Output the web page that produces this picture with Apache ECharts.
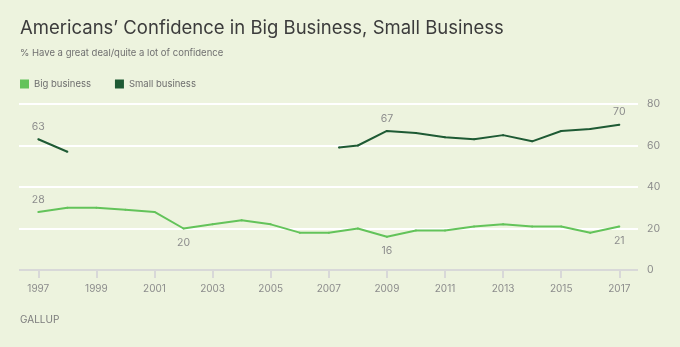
<!DOCTYPE html>
<html>
<head>
<meta charset="utf-8">
<script src="https://cdn.jsdelivr.net/npm/echarts@6/dist/echarts.min.js"></script>
<style>
  html, body { margin: 0; padding: 0; background: #edf3de; }
  #chart { width: 680px; height: 347px; }
</style>
</head>
<body>
<div id="chart"></div>
<script>
// Survey years for big business (annual)
const bigYears = [1997, 1998, 1999, 2000, 2001, 2002, 2003, 2004, 2005, 2006, 2007,
                  2008, 2009, 2010, 2011, 2012, 2013, 2014, 2015, 2016, 2017];
const bigBusiness = [28, 30, 30, 29, 28, 20, 22, 24, 22, 18, 18,
                     20, 16, 19, 19, 21, 22, 21, 21, 18, 21];

// Small business was not asked 1999-2006; null breaks the line there
const smallYears = [1997, 1998, 2002, 2007.35, 2008, 2009, 2010, 2011, 2012, 2013, 2014, 2015, 2016, 2017];
const smallBusiness = [63, 57, null, 59, 60, 67, 66, 64, 63, 65, 62, 67, 68, 70];

// Years whose values are printed on the chart
const bigLabelled = { 1997: 'top', 2002: 'bottom', 2009: 'bottom', 2017: 'bottom' };
const smallLabelled = { 1997: 'top', 2009: 'top', 2017: 'top' };

const yTicks = [0, 20, 40, 60, 80];

const LIGHT = '#63c35a';
const DARK = '#1e5a34';
const GREY = '#8c8c8c';
const FONT = 'Inter, sans-serif';

function buildData(xs, ys, labelled) {
  return xs.map((x, i) => {
    const item = { value: [x, ys[i] === null ? '-' : ys[i]] };
    if (labelled[x]) {
      item.label = {
        show: true,
        position: labelled[x],
        distance: labelled[x] === 'top' ? 6 : 8,
        color: GREY,
        fontSize: 10.5,
        fontFamily: FONT
      };
    }
    return item;
  });
}

const chart = echarts.init(document.getElementById('chart'));
chart.setOption({
  backgroundColor: '#edf3de',
  animation: false,
  textStyle: { fontFamily: FONT },
  title: [
    {
      text: 'Americans\u2019 Confidence in Big Business, Small Business',
      left: 20, top: 19, padding: 0,
      textStyle: { fontSize: 18.5, fontWeight: 'normal', color: '#3c3c3c', fontFamily: FONT }
    },
    {
      text: '% Have a great deal/quite a lot of confidence',
      left: 20, top: 48, padding: 0,
      textStyle: { fontSize: 9.5, fontWeight: 'normal', color: '#707070', fontFamily: FONT }
    },
    {
      text: 'GALLUP',
      left: 20, top: 315, padding: 0,
      textStyle: { fontSize: 10, fontWeight: 'normal', color: '#7c7c7c', fontFamily: FONT }
    }
  ],
  legend: {
    left: 20, top: 79, padding: 0,
    icon: 'rect',
    itemWidth: 9, itemHeight: 9, itemGap: 24,
    textStyle: { fontSize: 9.5, color: '#6e6e6e', fontFamily: FONT },
    data: ['Big business', 'Small business']
  },
  grid: [
    { left: 19, right: 42, top: 104, bottom: 77 },
    { left: 38.3, right: 60.7, top: 104, bottom: 77 }
  ],
  xAxis: [
    {
      gridIndex: 0, type: 'value', min: 0, max: 1,
      axisLine: { show: false }, axisTick: { show: false },
      axisLabel: { show: false }, splitLine: { show: false }
    },
    {
      gridIndex: 1, type: 'value', min: bigYears[0], max: bigYears[bigYears.length - 1], interval: 2,
      axisLine: { show: false },
      axisTick: { show: true, length: 8, lineStyle: { color: '#d8d8d8', width: 2 } },
      axisLabel: { color: GREY, fontSize: 10, margin: 14, fontFamily: FONT, formatter: v => String(v) },
      splitLine: { show: false }
    }
  ],
  yAxis: [
    {
      gridIndex: 0, type: 'value', position: 'right',
      min: yTicks[0], max: yTicks[yTicks.length - 1], interval: 20,
      axisLine: { show: false }, axisTick: { show: false },
      axisLabel: { color: GREY, fontSize: 10.5, margin: 9, fontFamily: FONT },
      splitLine: { show: true, lineStyle: { color: ['#d8d8d8', '#ffffff', '#ffffff', '#ffffff', '#ffffff'], width: 2 } }
    },
    {
      gridIndex: 1, type: 'value',
      min: yTicks[0], max: yTicks[yTicks.length - 1], show: false
    }
  ],
  series: [
    {
      name: 'Big business', type: 'line',
      xAxisIndex: 1, yAxisIndex: 1,
      data: buildData(bigYears, bigBusiness, bigLabelled),
      showSymbol: true, symbol: 'circle', symbolSize: 2,
      itemStyle: { color: LIGHT },
      lineStyle: { color: LIGHT, width: 2 }
    },
    {
      name: 'Small business', type: 'line',
      xAxisIndex: 1, yAxisIndex: 1,
      data: buildData(smallYears, smallBusiness, smallLabelled),
      connectNulls: false,
      showSymbol: true, symbol: 'circle', symbolSize: 2,
      itemStyle: { color: DARK },
      lineStyle: { color: DARK, width: 2 }
    }
  ]
});
</script>
</body>
</html>
